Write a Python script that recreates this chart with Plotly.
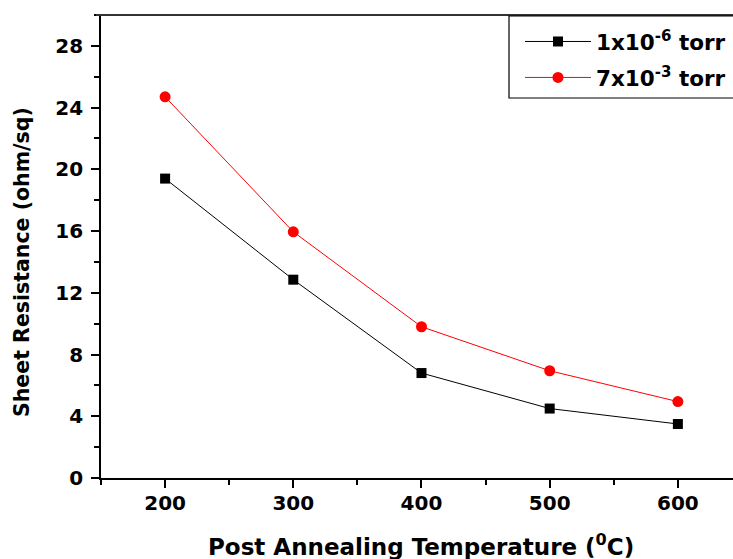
import plotly.graph_objects as go

temps = [200, 300, 400, 500, 600]
res_1e6 = [19.4, 12.85, 6.8, 4.5, 3.5]
res_7e3 = [24.7, 15.95, 9.8, 6.95, 4.95]
names = ["1x10<sup>-6</sup> torr", "7x10<sup>-3</sup> torr"]
x_ticks = [200, 300, 400, 500, 600]
x_minor = [150, 250, 350, 450, 550, 650]
y_ticks = [0, 4, 8, 12, 16, 20, 24, 28]
y_minor = [2, 6, 10, 14, 18, 22, 26, 30]

FONT = "DejaVu Sans"

fig = go.Figure()
fig.add_trace(go.Scatter(
    x=temps, y=res_1e6, name=names[0], mode="lines+markers", legendgroup="a",
    line=dict(color="black", width=1),
    marker=dict(symbol="square", size=10, color="black"),
))
fig.add_trace(go.Scatter(
    x=temps, y=res_7e3, name=names[1], mode="lines+markers", legendgroup="b",
    line=dict(color="red", width=1),
    marker=dict(symbol="circle", size=11, color="red"),
))

# body margin is removed (post_script), so the figure fills the window from (0, 0)
W, H = 733, 559
# target plot area in window pixels: x 101..733, y 15..478
L, R, T, B = 101, 0, 15, 559 - 478
PW, PH = W - L - R, H - T - B


def px_x(px):
    return (px - L) / PW


def px_y(py):
    return (T + PH - py) / PH


fig.update_layout(
    width=W, height=H,
    margin=dict(l=L, r=R, t=T, b=B, pad=0, autoexpand=False),
    plot_bgcolor="white", paper_bgcolor="white",
    font=dict(family=FONT, color="black"),
    showlegend=True,
    legend=dict(
        x=px_x(520), y=px_y(21), xanchor="left", yanchor="top",
        borderwidth=0, bgcolor="rgba(0,0,0,0)",
        font=dict(family=FONT, size=21.5, weight="bold", color="black"),
        itemwidth=66, tracegroupgap=5,
    ),
)

fig.update_xaxes(
    range=[150, 643], tickmode="array", tickvals=x_ticks,
    ticktext=[str(v) for v in x_ticks],
    ticks="outside", ticklen=8, tickwidth=1.5, tickcolor="black",
    showline=True, linewidth=1.8, linecolor="black", mirror=False,
    showgrid=False, zeroline=False, automargin=False,
    tickfont=dict(family=FONT, size=20, weight="bold", color="black"),
    ticklabelstandoff=-2,
    minor=dict(tickvals=x_minor, ticks="outside", ticklen=5, tickwidth=1.5, tickcolor="black", showgrid=False),
)
fig.update_yaxes(
    range=[0, 30], tickmode="array", tickvals=y_ticks,
    ticktext=[str(v) for v in y_ticks],
    ticks="outside", ticklen=8, tickwidth=1.5, tickcolor="black",
    showline=True, linewidth=1.8, linecolor="black", mirror=False,
    showgrid=False, zeroline=False, automargin=False,
    tickfont=dict(family=FONT, size=20, weight="bold", color="black"),
    ticklabelstandoff=4,
    minor=dict(tickvals=y_minor, ticks="outside", ticklen=5, tickwidth=1.5, tickcolor="black", showgrid=False),
)

# top frame line
fig.add_shape(type="line", xref="paper", yref="paper", x0=px_x(96), x1=1.05, y0=1, y1=1,
              line=dict(color="#333333", width=2))
# legend box (extends past the right edge like the reference)
fig.add_shape(type="rect", xref="paper", yref="paper",
              x0=px_x(509), x1=px_x(800), y0=px_y(98), y1=px_y(16),
              line=dict(color="black", width=1.2), fillcolor="rgba(0,0,0,0)", layer="above")

# axis titles
fig.add_annotation(text="Post Annealing Temperature (<sup>0</sup>C)",
                   xref="paper", yref="paper", x=px_x(421), y=px_y(545),
                   xanchor="center", yanchor="middle", showarrow=False,
                   font=dict(family=FONT, size=23, weight="bold", color="black"))
fig.add_annotation(text="Sheet Resistance (ohm/sq)",
                   xref="paper", yref="paper", x=px_x(22), y=px_y(262),
                   xanchor="center", yanchor="middle", showarrow=False, textangle=-90,
                   font=dict(family=FONT, size=20.5, weight="bold", color="black"))

fig.write_html(
    "out.html",
    config={"displayModeBar": False},
    post_script="document.body.style.margin='0';document.body.style.overflow='hidden';",
)
